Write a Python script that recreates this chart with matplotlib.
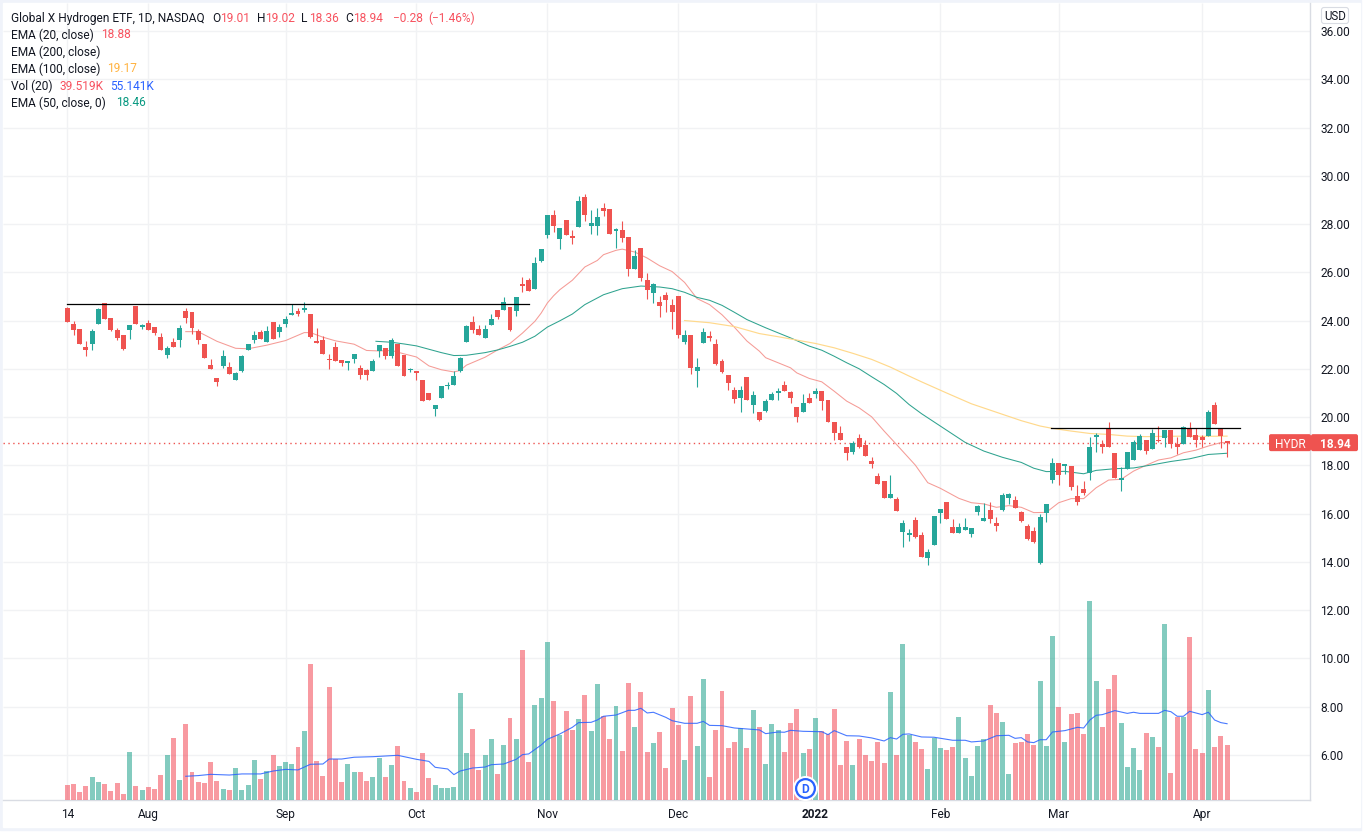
import matplotlib

matplotlib.use("Agg")
import matplotlib.pyplot as plt
from matplotlib.patches import FancyBboxPatch, Rectangle
from matplotlib.transforms import IdentityTransform

plt.rcParams["font.family"] = ["Roboto", "DejaVu Sans"]

W, H = 1370, 834

opens = [24.52, 23.86, 23.65, 22.91, 23.03, 23.86, 24.73, 24.11, 23.61, 23.41, 23.61, 24.61, 23.74, 23.90, 23.74, 23.32, 22.58, 23.12, 23.20, 24.40,
         24.36, 23.57, 23.03, 22.16, 21.62, 22.12, 22.08, 21.54, 21.91, 22.78, 23.20, 23.53, 23.12, 23.94, 23.53, 23.86, 24.25, 24.40, 24.44, 24.28,
         23.16, 23.20, 22.38, 22.91, 22.37, 22.25, 22.41, 22.04, 21.96, 21.91, 22.74, 22.87, 22.54, 23.03, 22.58, 21.95, 21.91, 21.54, 21.00, 20.34,
         20.80, 21.27, 21.33, 21.91, 23.12, 23.94, 23.65, 23.28, 23.82, 24.44, 24.44, 24.57, 24.40, 25.53, 25.69, 25.32, 26.48, 27.56, 28.39, 27.39,
         28.18, 27.47, 27.89, 29.13, 27.93, 27.93, 28.68, 28.64, 27.72, 27.77, 27.48, 26.15, 27.02, 25.69, 25.15, 24.78, 25.07, 24.66, 25.03, 23.12,
         23.41, 21.92, 23.08, 23.37, 23.04, 22.34, 21.76, 21.14, 20.81, 21.68, 20.52, 20.23, 20.27, 20.69, 20.98, 21.31, 21.02, 20.40, 20.23, 20.81,
         20.94, 21.06, 20.69, 19.78, 19.32, 18.78, 18.57, 19.15, 18.85, 18.16, 17.54, 17.35, 16.65, 16.60, 15.24, 15.11, 15.73, 15.11, 14.16, 14.70,
         16.03, 16.48, 15.44, 15.20, 15.32, 15.15, 16.07, 15.69, 16.15, 15.61, 16.15, 16.65, 16.56, 16.07, 15.49, 15.28, 13.95, 16.02, 17.39, 18.10,
         17.96, 17.96, 16.71, 17.00, 17.67, 19.16, 18.87, 19.49, 18.49, 17.38, 17.83, 18.20, 18.62, 19.03, 18.66, 19.07, 19.12, 19.45, 18.87, 18.87,
         19.53, 19.24, 19.16, 19.20, 20.52, 19.49, 19.01]
highs = [24.55, 23.99, 23.65, 23.16, 23.65, 24.52, 24.73, 24.11, 23.70, 23.41, 23.82, 24.61, 23.86, 24.03, 23.74, 23.49, 22.95, 23.28, 23.82, 24.52,
         24.36, 23.65, 23.03, 22.41, 21.62, 22.78, 22.29, 21.87, 22.58, 23.03, 23.57, 23.61, 23.78, 23.94, 23.86, 24.19, 24.69, 24.52, 24.77, 24.28,
         23.70, 23.36, 22.62, 23.12, 22.37, 22.33, 22.62, 22.16, 22.00, 22.41, 22.99, 22.87, 23.28, 23.03, 22.58, 22.04, 21.91, 21.54, 21.00, 20.51,
         21.29, 21.46, 21.91, 22.49, 23.82, 24.19, 23.82, 23.82, 24.28, 24.44, 24.98, 24.57, 24.98, 25.80, 25.78, 26.64, 26.98, 28.39, 28.59, 27.85,
         28.18, 27.76, 29.17, 29.26, 28.59, 28.68, 28.88, 28.64, 27.85, 28.14, 27.48, 26.94, 27.02, 25.98, 25.57, 25.03, 25.20, 24.91, 25.03, 23.62,
         23.41, 22.46, 23.70, 23.58, 23.25, 22.42, 21.76, 21.23, 21.27, 21.68, 21.10, 20.23, 20.73, 21.02, 21.19, 21.48, 21.06, 20.40, 20.94, 20.98,
         21.19, 21.06, 20.69, 19.78, 19.65, 18.78, 18.99, 19.28, 19.05, 18.33, 17.70, 17.35, 17.60, 16.69, 15.73, 15.36, 15.86, 15.24, 14.53, 15.90,
         16.19, 16.48, 15.78, 15.61, 15.82, 15.40, 16.35, 16.44, 16.48, 15.86, 16.85, 16.85, 16.73, 16.10, 15.56, 15.44, 16.00, 16.40, 18.30, 18.10,
         18.04, 17.96, 17.17, 17.33, 19.16, 19.32, 19.07, 19.78, 18.49, 17.91, 18.54, 19.03, 19.28, 19.03, 19.49, 19.61, 19.45, 19.45, 19.16, 19.61,
         19.78, 19.53, 19.24, 20.28, 20.61, 19.49, 19.02]
lows = [23.94, 23.41, 23.03, 22.54, 22.78, 23.86, 24.07, 23.57, 23.21, 22.76, 23.24, 23.86, 23.65, 23.61, 23.41, 22.78, 22.45, 22.91, 22.91, 23.90,
        23.45, 23.03, 22.45, 22.00, 21.29, 22.04, 21.79, 21.54, 21.87, 22.78, 23.07, 23.24, 23.12, 23.24, 23.32, 23.74, 24.25, 24.19, 24.36, 23.28,
        23.07, 22.62, 22.00, 22.33, 22.12, 21.96, 22.25, 21.58, 21.54, 21.91, 22.49, 22.41, 22.45, 22.12, 21.71, 21.87, 21.54, 20.67, 20.71, 20.05,
        20.80, 21.17, 21.33, 21.87, 23.12, 23.49, 23.41, 23.28, 23.82, 24.07, 24.44, 23.57, 24.19, 25.20, 25.24, 25.32, 26.44, 27.43, 27.68, 26.98,
        27.56, 27.19, 27.89, 28.14, 27.60, 27.56, 28.35, 27.60, 27.02, 27.27, 25.86, 26.15, 25.65, 24.91, 24.74, 24.16, 24.37, 23.66, 23.29, 23.04,
        21.80, 21.26, 23.08, 23.17, 22.17, 21.84, 21.13, 20.60, 20.19, 20.69, 20.15, 19.82, 20.19, 20.69, 20.69, 21.06, 20.60, 19.78, 20.23, 20.60,
        20.77, 20.31, 19.78, 19.07, 19.03, 18.20, 18.45, 18.70, 18.40, 17.87, 17.21, 16.65, 16.65, 16.11, 14.62, 14.86, 15.00, 14.20, 13.87, 14.70,
        15.61, 15.78, 15.20, 15.20, 15.32, 15.03, 15.94, 15.69, 15.61, 15.28, 16.11, 16.40, 16.23, 15.65, 14.90, 14.78, 13.92, 15.65, 17.27, 17.19,
        17.62, 16.96, 16.34, 16.75, 17.38, 18.54, 18.49, 18.78, 17.46, 16.92, 17.83, 18.20, 18.62, 18.45, 18.66, 18.95, 18.78, 18.70, 18.45, 18.87,
        19.16, 18.78, 18.74, 19.20, 19.70, 18.70, 18.36]
closes = [23.94, 23.61, 23.03, 22.78, 23.57, 24.48, 24.07, 23.61, 23.28, 22.83, 23.82, 23.86, 23.82, 23.61, 23.49, 22.78, 22.87, 22.91, 23.70, 24.11,
          23.70, 23.20, 22.45, 22.00, 21.46, 22.54, 21.79, 21.83, 22.54, 23.03, 23.41, 23.24, 23.57, 23.24, 23.74, 24.07, 24.28, 24.28, 24.52, 23.32,
          23.07, 22.62, 22.35, 22.33, 22.25, 22.33, 22.62, 21.75, 21.75, 22.33, 22.99, 22.54, 23.20, 22.12, 21.71, 21.97, 21.83, 20.67, 20.71, 20.51,
          21.29, 21.30, 21.71, 22.45, 23.78, 23.61, 23.41, 23.65, 24.07, 24.15, 24.77, 23.61, 24.98, 25.44, 25.24, 26.40, 26.98, 28.39, 27.93, 27.85,
          27.56, 27.44, 28.97, 28.39, 28.06, 28.30, 28.55, 27.60, 27.81, 27.43, 26.15, 26.69, 25.78, 25.28, 25.53, 24.62, 24.86, 24.37, 23.41, 23.41,
          22.05, 22.09, 23.54, 23.29, 22.21, 21.88, 21.43, 20.73, 21.14, 20.69, 20.90, 19.86, 20.65, 20.94, 21.06, 21.10, 20.77, 20.02, 20.60, 20.60,
          21.10, 20.65, 19.78, 19.36, 19.07, 18.53, 18.91, 18.74, 18.40, 18.04, 17.21, 16.65, 16.81, 16.11, 15.61, 15.20, 15.03, 14.20, 14.41, 15.90,
          16.19, 15.78, 15.20, 15.44, 15.44, 15.40, 16.31, 15.82, 15.78, 15.49, 16.77, 16.81, 16.23, 15.69, 14.95, 14.82, 15.86, 16.40, 18.10, 17.60,
          18.04, 17.09, 16.46, 16.84, 18.78, 19.24, 18.74, 18.78, 17.46, 17.46, 18.54, 18.95, 19.20, 18.58, 19.36, 18.99, 19.45, 18.87, 18.78, 19.57,
          19.16, 19.07, 19.07, 20.19, 19.70, 19.20, 18.94]
# volume in thousands
volumes = [10.9, 11.6, 5.8, 10.2, 16.7, 13.1, 11.6, 6.5, 12.3, 4.4, 34.8, 10.2, 7.3, 9.4, 8.0, 18.1, 32.6, 45.0, 14.5, 55.1,
           20.3, 13.1, 12.3, 27.6, 13.8, 8.0, 7.3, 23.2, 7.3, 10.9, 29.0, 15.2, 21.0, 32.6, 24.7, 27.6, 26.1, 38.4, 50.0, 98.6,
           28.3, 17.4, 81.9, 29.7, 13.1, 26.1, 20.3, 20.3, 13.8, 16.7, 30.5, 16.7, 25.4, 39.2, 13.8, 8.7, 5.8, 34.1, 16.0, 10.9,
           8.7, 8.7, 9.4, 77.6, 34.1, 51.5, 21.8, 32.6, 44.2, 18.9, 39.9, 59.5, 44.2, 108.8, 27.6, 68.9, 74.0, 114.6, 71.8, 47.1,
           64.5, 50.8, 58.7, 76.1, 50.0, 84.1, 60.9, 44.2, 68.2, 35.5, 84.8, 52.9, 78.3, 34.8, 41.3, 49.3, 23.2, 66.7, 54.4, 29.0,
           75.4, 39.2, 87.7, 16.7, 50.8, 79.0, 37.7, 42.1, 52.2, 37.7, 65.3, 52.9, 26.1, 55.1, 50.8, 34.8, 55.8, 66.0, 34.1, 37.0,
           59.5, 50.0, 47.9, 66.0, 25.4, 42.8, 25.4, 44.2, 32.6, 28.3, 42.1, 26.8, 78.3, 32.6, 113.1, 47.1, 42.1, 37.0, 22.5, 45.0,
           37.7, 36.3, 38.4, 60.2, 30.5, 17.4, 39.2, 44.2, 68.9, 63.1, 56.6, 18.9, 41.3, 42.1, 47.9, 39.9, 86.3, 39.2, 118.9, 67.4,
           42.1, 62.4, 63.1, 47.9, 144.3, 86.3, 52.9, 80.5, 90.6, 55.8, 23.9, 37.7, 21.8, 48.6, 45.7, 38.4, 127.6, 19.6, 60.2, 60.2,
           118.2, 37.0, 34.1, 79.8, 38.4, 46.4, 39.9]

ema20_idx = [19, 21, 24, 27, 29, 32, 35, 38, 39, 41, 43, 46, 48, 50, 52, 54, 56, 58, 60, 62, 63, 64, 67, 69, 71, 73, 75, 76, 77, 78, 79, 81, 83, 85, 86, 88, 89, 91, 93, 95, 97, 99, 101, 103, 105, 107, 109, 111, 112, 114, 116, 117, 119, 121, 123, 125, 127, 129, 131, 133, 136, 138, 140, 143, 145, 147, 149, 151, 153, 155, 157, 159, 161, 163, 165, 167, 169, 171, 173, 175, 177, 179, 181, 183, 185, 186]
ema20 = [23.54, 23.54, 23.14, 22.85, 22.83, 22.98, 23.17, 23.50, 23.50, 23.31, 23.16, 23.02, 22.76, 22.74, 22.76, 22.62, 22.49, 22.12, 21.96, 21.87, 21.93, 22.15, 22.48, 22.78, 23.05, 23.48, 23.97, 24.31, 24.73, 25.03, 25.28, 25.67, 26.22, 26.49, 26.73, 26.91, 26.96, 26.84, 26.59, 26.27, 26.03, 25.58, 24.91, 24.66, 24.24, 23.72, 23.15, 22.73, 22.46, 22.25, 22.04, 21.83, 21.60, 21.46, 21.07, 20.66, 20.38, 20.01, 19.42, 18.86, 18.01, 17.28, 17.05, 16.63, 16.45, 16.40, 16.26, 16.33, 16.26, 16.04, 16.05, 16.45, 16.62, 16.62, 17.07, 17.39, 17.42, 17.76, 18.00, 18.22, 18.31, 18.52, 18.63, 18.80, 18.94, 18.94]
ema50_idx = [49.5, 52, 54, 56, 58, 60, 62, 64, 67, 69, 71, 73, 75, 77, 79, 81, 83, 86, 89, 92, 95, 97, 99, 101, 103, 105, 107, 109, 112, 116, 119, 121, 123, 125, 127, 129, 131, 133, 135, 137, 141, 144, 147, 150, 153, 155, 157, 160, 163, 165, 168, 171, 174, 177, 180, 183, 186]
ema50 = [23.14, 23.10, 23.03, 22.95, 22.81, 22.67, 22.55, 22.56, 22.67, 22.78, 22.93, 23.10, 23.35, 23.73, 23.99, 24.27, 24.66, 25.07, 25.32, 25.43, 25.39, 25.32, 25.17, 24.96, 24.84, 24.63, 24.34, 24.04, 23.70, 23.28, 22.94, 22.77, 22.52, 22.25, 22.00, 21.67, 21.35, 20.98, 20.52, 20.14, 19.46, 18.95, 18.59, 18.33, 18.12, 17.88, 17.74, 17.75, 17.65, 17.79, 17.86, 17.89, 18.02, 18.16, 18.27, 18.45, 18.50]
ema100_idx = [99, 103, 107, 111, 114, 117, 120, 123, 126, 129, 132, 135, 137, 141, 145, 149, 153, 156, 158, 161, 164, 167, 170, 173, 176, 179, 182, 186]
ema100 = [24.00, 23.91, 23.75, 23.46, 23.33, 23.19, 23.05, 22.87, 22.64, 22.39, 22.07, 21.70, 21.46, 21.00, 20.55, 20.20, 19.85, 19.63, 19.53, 19.42, 19.32, 19.28, 19.21, 19.19, 19.20, 19.21, 19.20, 19.21]
volma_idx = [19, 21, 23, 26, 28, 31, 33, 35, 37, 39, 41, 42, 44, 46, 49, 53, 56, 58, 59, 61, 62, 63, 65, 67, 68, 70, 72, 73, 74, 76, 77, 79, 81, 82, 84, 85, 86, 88, 90, 91, 92, 93, 94, 96, 97, 99, 101, 102, 103, 105, 107, 109, 111, 112, 114, 115, 116, 118, 121, 122, 123, 125, 127, 129, 131, 132, 133, 134, 135, 137, 139, 142, 144, 145, 147, 149, 151, 152, 153, 154, 155, 156, 157, 158, 160, 162, 163, 164, 165, 166, 168, 170, 171, 172, 175, 176, 177, 178, 179, 180, 182, 183, 184, 185, 186]
volma = [17.2, 17.7, 18.6, 18.1, 18.9, 18.9, 21.0, 22.2, 21.8, 25.9, 26.1, 29.7, 29.7, 31.0, 31.4, 32.4, 29.5, 28.0, 23.7, 22.5, 18.4, 21.0, 23.2, 23.9, 25.6, 26.1, 29.5, 32.9, 33.4, 39.9, 44.0, 47.9, 52.7, 56.1, 56.3, 58.0, 60.7, 61.6, 65.0, 65.0, 66.5, 63.1, 63.6, 59.9, 57.5, 55.6, 55.6, 57.0, 54.1, 53.9, 52.2, 51.5, 50.8, 48.1, 49.3, 49.1, 50.5, 49.8, 49.5, 47.4, 50.3, 46.6, 46.4, 45.0, 42.8, 45.2, 44.2, 47.6, 47.9, 45.7, 45.5, 43.3, 43.3, 42.1, 42.8, 46.6, 46.9, 44.7, 45.2, 42.1, 41.6, 43.7, 43.7, 49.3, 50.3, 52.7, 52.2, 58.0, 61.4, 61.9, 64.8, 62.8, 63.6, 62.8, 62.8, 65.0, 64.0, 60.7, 60.7, 64.3, 61.9, 63.6, 58.0, 56.1, 55.3]

resist_low = (0, 74, 24.68)
resist_high = (157.8, 188, 19.56)
last_price = 18.94

month_idx = [0, 13, 35, 56, 77, 98, 120, 140, 159, 182]
month_labels = ["14", "Aug", "Sep", "Oct", "Nov", "Dec", "2022", "Feb", "Mar", "Apr"]
price_ticks = list(range(6, 37, 2))

UP = "#26A69A"
DOWN = "#EF5350"
TEXT = "#131722"
GRID = "#F1F2F4"


def px(x, y):
    return x / W, 1 - y / H


fig = plt.figure(figsize=(W / 100, H / 100), dpi=100, facecolor="white")
fig.add_artist(Rectangle(px(0, 830), 1361 / W, 830 / H, transform=fig.transFigure, color="#F0F3FA", zorder=-2))
fig.add_artist(Rectangle(px(3, 827), 1357 / W, 824 / H, transform=fig.transFigure, color="white", zorder=-1))

ax = fig.add_axes([3 / W, (H - 800) / H, 1307 / W, 797 / H])
ax.patch.set_alpha(0)
ax.set_xlim(-10.31, 199.3)
ax.set_ylim(4.13, 37.16)

xs = list(range(len(closes)))
colors = [UP if c >= o else DOWN for o, c in zip(opens, closes)]
ax.vlines(month_idx, 4.13, 37.16, color=GRID, lw=1.0, zorder=0)
ax.hlines(price_ticks, -10.31, 199.3, color=GRID, lw=1.0, zorder=0)

ax.vlines(xs, lows, highs, colors=colors, lw=0.8, zorder=3)
ax.bar(xs, [max(abs(c - o), 0.05) for o, c in zip(opens, closes)],
       bottom=[min(o, c) for o, c in zip(opens, closes)], width=0.8, color=colors, lw=0, zorder=3)

ax.plot(ema20_idx, ema20, color="#F59B96", lw=0.75, zorder=2)
ax.plot(ema50_idx, ema50, color="#2FA38F", lw=0.75, zorder=2)
ax.plot(ema100_idx, ema100, color="#FFD98C", lw=0.85, zorder=2)
ax.plot(resist_low[:2], [resist_low[2]] * 2, color="black", lw=0.9, zorder=4)
ax.plot(resist_high[:2], [resist_high[2]] * 2, color="black", lw=0.9, zorder=4)
ax.axhline(last_price, color=DOWN, lw=1.0, ls=(0, (1, 2.5)), zorder=1)

ax.set_xticks(month_idx)
ax.set_xticklabels(month_labels, fontsize=8.6, color=TEXT)
ax.get_xticklabels()[6].set_fontweight("bold")
for side in ["top", "left"]:
    ax.spines[side].set_visible(False)
for side in ["right", "bottom"]:
    ax.spines[side].set_color("#D9DCE3")
    ax.spines[side].set_linewidth(1.0)

# volume pane shares the same box with its own scale
vax = ax.twinx()
vax.patch.set_alpha(0)
vax.set_ylim(0, 577.8)
vax.set_yticks([])
for side in vax.spines:
    vax.spines[side].set_visible(False)
vol_colors = ["#089981" if c >= o else "#F23645" for o, c in zip(opens, closes)]
vax.bar(xs, volumes, width=0.8, color=vol_colors, alpha=0.5, lw=0)
vax.plot(volma_idx, volma, color="#2962FF", lw=0.8, alpha=0.85)
vax.plot([118.3], [8.7], "o", ms=17, mfc="white", mec="white", zorder=5)
vax.plot([118.3], [8.7], "o", ms=13.5, mfc="white", mec="#2962FF", mew=1.6, zorder=6)
vax.text(118.3, 8.7, "D", color="#2962FF", fontsize=8.6, fontweight="bold", ha="center", va="center_baseline", zorder=7)

# twinx moved the price ticks back to the left
ax.yaxis.tick_right()
ax.set_yticks(price_ticks)
ax.set_yticklabels([f"{p:.2f}" for p in price_ticks], fontsize=8.6, color=TEXT)
ax.tick_params(axis="both", length=0)
ax.tick_params(axis="y", pad=7.5)
ax.tick_params(axis="x", pad=6)

# last price tags
tag_px = 31 + (36 - last_price) * 24.13
fig.add_artist(FancyBboxPatch((1271, H - tag_px - 6.5), 38, 13, boxstyle="round,pad=2", fc=DOWN, ec="none",
                              transform=IdentityTransform(), zorder=4))
fig.add_artist(FancyBboxPatch((1313, H - tag_px - 6.5), 43, 13, boxstyle="round,pad=2", fc=DOWN, ec="none",
                              transform=IdentityTransform(), zorder=4))
fig.text(1290 / W, 1 - tag_px / H, "HYDR", color="white", fontsize=8.6, ha="center", va="center_baseline", zorder=5)
fig.text(1335 / W, 1 - tag_px / H, "18.94", color="white", fontsize=8.6, fontweight="bold", ha="center", va="center_baseline", zorder=5)

fig.add_artist(FancyBboxPatch((1324, H - 21), 22, 11, boxstyle="round,pad=2.5", fc="white", ec="#D9DCE3", lw=0.8,
                              transform=IdentityTransform(), zorder=4))
fig.text(1335 / W, 1 - 15.5 / H, "USD", color=TEXT, fontsize=8.3, ha="center", va="center_baseline", zorder=5)

# legend rows
RED = "#F7525F"
rows = [
    (17, [(11, "Global X Hydrogen ETF, 1D, NASDAQ", TEXT), (212, "O", TEXT), (220.5, "19.01", RED), (256.5, "H", TEXT), (265.5, "19.02", RED),
          (301, "L", TEXT), (309, "18.36", RED), (345, "C", TEXT), (353, "18.94", RED), (393, "\u22120.28", RED), (428, "(\u22121.46%)", RED)]),
    (33.5, [(11, "EMA (20, close)", TEXT), (101, "18.88", RED)]),
    (50.5, [(11, "EMA (200, close)", TEXT)]),
    (67.5, [(11, "EMA (100, close)", TEXT), (107.5, "19.17", "#FFB23F")]),
    (84.5, [(11, "Vol (20)", TEXT), (60, "39.519K", RED), (110, "55.141K", "#2962FF")]),
    (101.5, [(11, "EMA (50, close, 0)", TEXT), (116, "18.46", "#089981")]),
]
for y, parts in rows:
    for x, label, col in parts:
        fx, fy = px(x, y)
        fig.text(fx, fy, label, color=col, fontsize=8.6, ha="left", va="center_baseline", zorder=5)

fig.savefig("out.png", dpi=100)
